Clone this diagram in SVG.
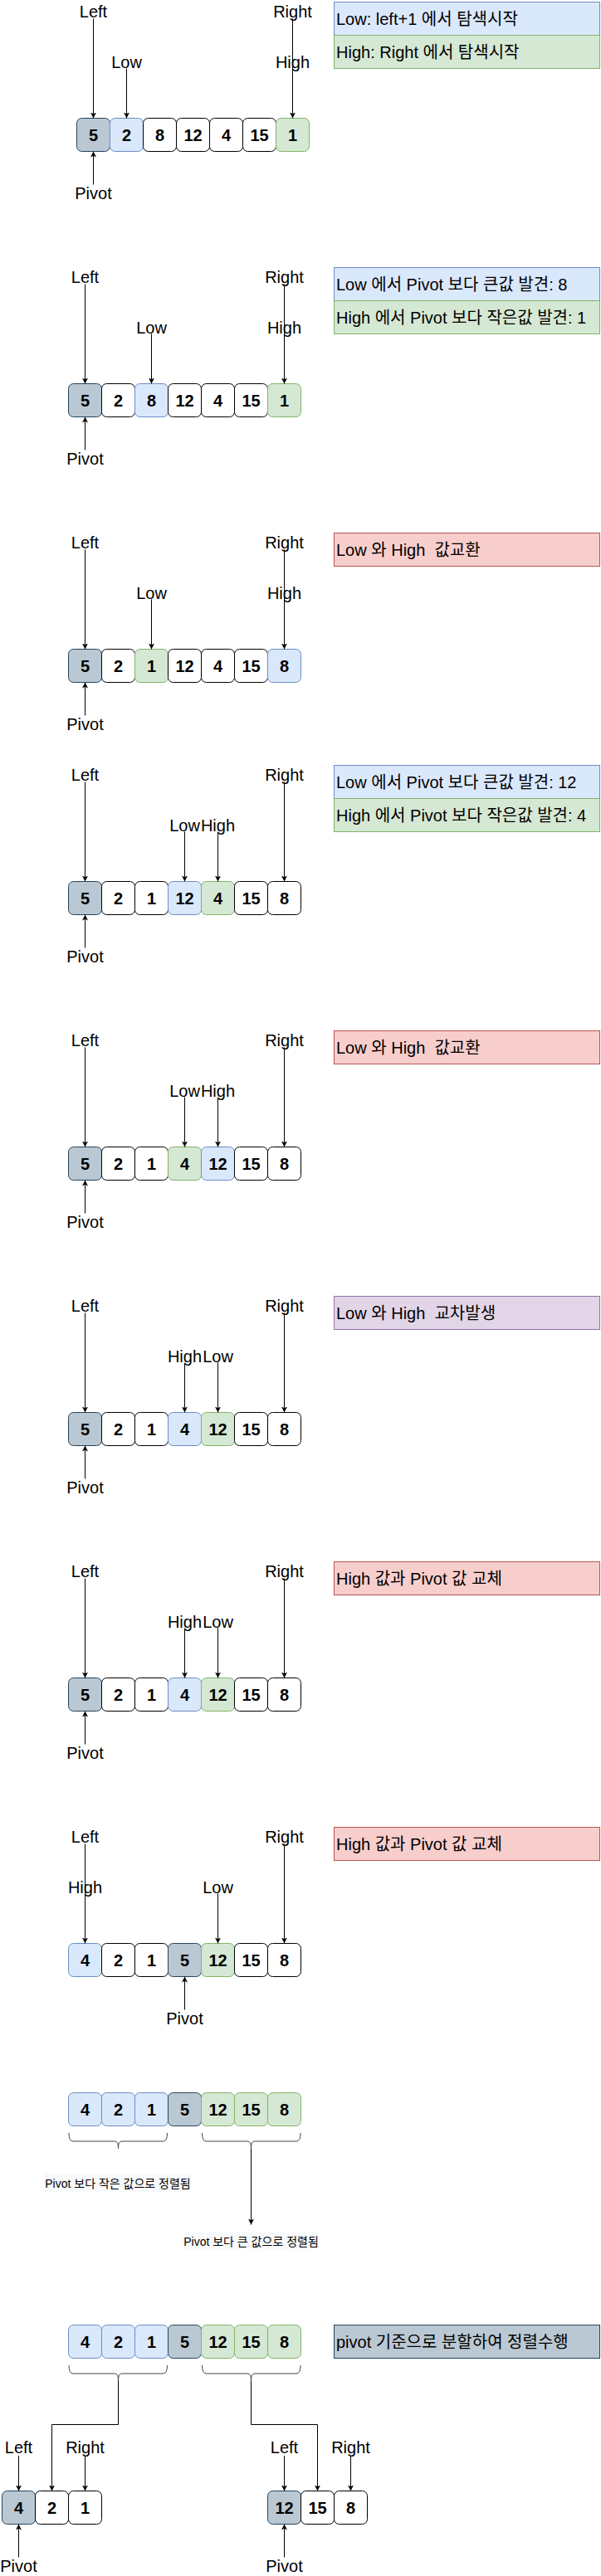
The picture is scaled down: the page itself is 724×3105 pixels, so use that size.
<svg xmlns="http://www.w3.org/2000/svg" width="724" height="3105" viewBox="0 0 724 3105">
<defs>
<marker id="arr" viewBox="0 0 10 10" refX="10" refY="5" markerWidth="7" markerHeight="7" markerUnits="userSpaceOnUse" orient="auto"><path d="M0,0 L10,5 L0,10 L2.5,5 Z" fill="#000"/></marker>
<style>
text{font-family:"Liberation Sans","Noto Sans CJK KR",sans-serif;fill:#000}
.lbl{font-size:20px;text-anchor:middle}
.num{font-size:20px;font-weight:bold;text-anchor:middle}
.note{font-size:20px}
.small{font-size:14px;text-anchor:middle}
.sbg{fill:#f8f9fa;stroke:none}
.w{fill:#fff;stroke:#000}
.g{fill:#bac8d3;stroke:#23445d}
.b{fill:#dae8fc;stroke:#6c8ebf}
.gr{fill:#d5e8d4;stroke:#82b366}
.r{fill:#f8cecc;stroke:#b85450}
.p{fill:#e1d5e7;stroke:#9673a6}
.ln{stroke:#000;stroke-width:1;fill:none;marker-end:url(#arr)}
.pl{stroke:#000;stroke-width:1;fill:none}
.br{stroke:#444;stroke-width:1;fill:none}
</style>
</defs>
<rect width="724" height="3105" fill="#fff"/>

<!-- Panel 1 -->
<g id="p1-cells">
<rect class="g" x="92.5" y="142.5" width="40" height="40" rx="6"/><text class="num" x="112.5" y="169.5">5</text>
<rect class="b" x="132.5" y="142.5" width="40" height="40" rx="6"/><text class="num" x="152.5" y="169.5">2</text>
<rect class="w" x="172.5" y="142.5" width="40" height="40" rx="6"/><text class="num" x="192.5" y="169.5">8</text>
<rect class="w" x="212.5" y="142.5" width="40" height="40" rx="6"/><text class="num" x="232.5" y="169.5">12</text>
<rect class="w" x="252.5" y="142.5" width="40" height="40" rx="6"/><text class="num" x="272.5" y="169.5">4</text>
<rect class="w" x="292.5" y="142.5" width="40" height="40" rx="6"/><text class="num" x="312.5" y="169.5">15</text>
<rect class="gr" x="332.5" y="142.5" width="40" height="40" rx="6"/><text class="num" x="352.5" y="169.5">1</text>
</g>
<g id="p1-labels">
<text class="lbl" x="112.5" y="21">Left</text>
<text class="lbl" x="352.5" y="21">Right</text>
<text class="lbl" x="152.5" y="81.5">Low</text>
<text class="lbl" x="352.5" y="81.5">High</text>
<text class="lbl" x="112.5" y="240">Pivot</text>
</g>
<g id="p1-notes">
<rect class="b" x="402.5" y="2.5" width="320" height="40"/><text class="note" x="405" y="30">Low: left+1 에서 탐색시작</text>
<rect class="gr" x="402.5" y="42.5" width="320" height="40"/><text class="note" x="405" y="70">High: Right 에서 탐색시작</text>
</g>

<!-- Panel 2 -->
<g id="p2-cells">
<rect class="g" x="82.5" y="462.5" width="40" height="40" rx="6"/><text class="num" x="102.5" y="489.5">5</text>
<rect class="w" x="122.5" y="462.5" width="40" height="40" rx="6"/><text class="num" x="142.5" y="489.5">2</text>
<rect class="b" x="162.5" y="462.5" width="40" height="40" rx="6"/><text class="num" x="182.5" y="489.5">8</text>
<rect class="w" x="202.5" y="462.5" width="40" height="40" rx="6"/><text class="num" x="222.5" y="489.5">12</text>
<rect class="w" x="242.5" y="462.5" width="40" height="40" rx="6"/><text class="num" x="262.5" y="489.5">4</text>
<rect class="w" x="282.5" y="462.5" width="40" height="40" rx="6"/><text class="num" x="302.5" y="489.5">15</text>
<rect class="gr" x="322.5" y="462.5" width="40" height="40" rx="6"/><text class="num" x="342.5" y="489.5">1</text>
</g>
<g id="p2-labels">
<text class="lbl" x="102.5" y="341">Left</text>
<text class="lbl" x="342.5" y="341">Right</text>
<text class="lbl" x="182.5" y="401.5">Low</text>
<text class="lbl" x="342.5" y="401.5">High</text>
<text class="lbl" x="102.5" y="560">Pivot</text>
</g>
<g id="p2-notes">
<rect class="b" x="402.5" y="322.5" width="320" height="40"/><text class="note" x="405" y="350">Low 에서 Pivot 보다 큰값 발견: 8</text>
<rect class="gr" x="402.5" y="362.5" width="320" height="40"/><text class="note" x="405" y="390">High 에서 Pivot 보다 작은값 발견: 1</text>
</g>

<!-- Panel 3 -->
<g id="p3-cells">
<rect class="g" x="82.5" y="782.5" width="40" height="40" rx="6"/><text class="num" x="102.5" y="809.5">5</text>
<rect class="w" x="122.5" y="782.5" width="40" height="40" rx="6"/><text class="num" x="142.5" y="809.5">2</text>
<rect class="gr" x="162.5" y="782.5" width="40" height="40" rx="6"/><text class="num" x="182.5" y="809.5">1</text>
<rect class="w" x="202.5" y="782.5" width="40" height="40" rx="6"/><text class="num" x="222.5" y="809.5">12</text>
<rect class="w" x="242.5" y="782.5" width="40" height="40" rx="6"/><text class="num" x="262.5" y="809.5">4</text>
<rect class="w" x="282.5" y="782.5" width="40" height="40" rx="6"/><text class="num" x="302.5" y="809.5">15</text>
<rect class="b" x="322.5" y="782.5" width="40" height="40" rx="6"/><text class="num" x="342.5" y="809.5">8</text>
</g>
<g id="p3-labels">
<text class="lbl" x="102.5" y="661">Left</text>
<text class="lbl" x="342.5" y="661">Right</text>
<text class="lbl" x="182.5" y="721.5">Low</text>
<text class="lbl" x="342.5" y="721.5">High</text>
<text class="lbl" x="102.5" y="880">Pivot</text>
</g>
<g id="p3-notes">
<rect class="r" x="402.5" y="642.5" width="320" height="40"/><text class="note" x="405" y="670" xml:space="preserve">Low 와 High  값교환</text>
</g>

<!-- Panel 4 -->
<g id="p4-cells">
<rect class="g" x="82.5" y="1062.5" width="40" height="40" rx="6"/><text class="num" x="102.5" y="1089.5">5</text>
<rect class="w" x="122.5" y="1062.5" width="40" height="40" rx="6"/><text class="num" x="142.5" y="1089.5">2</text>
<rect class="w" x="162.5" y="1062.5" width="40" height="40" rx="6"/><text class="num" x="182.5" y="1089.5">1</text>
<rect class="b" x="202.5" y="1062.5" width="40" height="40" rx="6"/><text class="num" x="222.5" y="1089.5">12</text>
<rect class="gr" x="242.5" y="1062.5" width="40" height="40" rx="6"/><text class="num" x="262.5" y="1089.5">4</text>
<rect class="w" x="282.5" y="1062.5" width="40" height="40" rx="6"/><text class="num" x="302.5" y="1089.5">15</text>
<rect class="w" x="322.5" y="1062.5" width="40" height="40" rx="6"/><text class="num" x="342.5" y="1089.5">8</text>
</g>
<g id="p4-labels">
<text class="lbl" x="102.5" y="941">Left</text>
<text class="lbl" x="342.5" y="941">Right</text>
<text class="lbl" x="222.5" y="1001.5">Low</text>
<text class="lbl" x="262.5" y="1001.5">High</text>
<text class="lbl" x="102.5" y="1160">Pivot</text>
</g>
<g id="p4-notes">
<rect class="b" x="402.5" y="922.5" width="320" height="40"/><text class="note" x="405" y="950">Low 에서 Pivot 보다 큰값 발견: 12</text>
<rect class="gr" x="402.5" y="962.5" width="320" height="40"/><text class="note" x="405" y="990">High 에서 Pivot 보다 작은값 발견: 4</text>
</g>

<!-- Panel 5 -->
<g id="p5-cells">
<rect class="g" x="82.5" y="1382.5" width="40" height="40" rx="6"/><text class="num" x="102.5" y="1409.5">5</text>
<rect class="w" x="122.5" y="1382.5" width="40" height="40" rx="6"/><text class="num" x="142.5" y="1409.5">2</text>
<rect class="w" x="162.5" y="1382.5" width="40" height="40" rx="6"/><text class="num" x="182.5" y="1409.5">1</text>
<rect class="gr" x="202.5" y="1382.5" width="40" height="40" rx="6"/><text class="num" x="222.5" y="1409.5">4</text>
<rect class="b" x="242.5" y="1382.5" width="40" height="40" rx="6"/><text class="num" x="262.5" y="1409.5">12</text>
<rect class="w" x="282.5" y="1382.5" width="40" height="40" rx="6"/><text class="num" x="302.5" y="1409.5">15</text>
<rect class="w" x="322.5" y="1382.5" width="40" height="40" rx="6"/><text class="num" x="342.5" y="1409.5">8</text>
</g>
<g id="p5-labels">
<text class="lbl" x="102.5" y="1261">Left</text>
<text class="lbl" x="342.5" y="1261">Right</text>
<text class="lbl" x="222.5" y="1321.5">Low</text>
<text class="lbl" x="262.5" y="1321.5">High</text>
<text class="lbl" x="102.5" y="1480">Pivot</text>
</g>
<g id="p5-notes">
<rect class="r" x="402.5" y="1242.5" width="320" height="40"/><text class="note" x="405" y="1270" xml:space="preserve">Low 와 High  값교환</text>
</g>

<!-- Panel 6 -->
<g id="p6-cells">
<rect class="g" x="82.5" y="1702.5" width="40" height="40" rx="6"/><text class="num" x="102.5" y="1729.5">5</text>
<rect class="w" x="122.5" y="1702.5" width="40" height="40" rx="6"/><text class="num" x="142.5" y="1729.5">2</text>
<rect class="w" x="162.5" y="1702.5" width="40" height="40" rx="6"/><text class="num" x="182.5" y="1729.5">1</text>
<rect class="b" x="202.5" y="1702.5" width="40" height="40" rx="6"/><text class="num" x="222.5" y="1729.5">4</text>
<rect class="gr" x="242.5" y="1702.5" width="40" height="40" rx="6"/><text class="num" x="262.5" y="1729.5">12</text>
<rect class="w" x="282.5" y="1702.5" width="40" height="40" rx="6"/><text class="num" x="302.5" y="1729.5">15</text>
<rect class="w" x="322.5" y="1702.5" width="40" height="40" rx="6"/><text class="num" x="342.5" y="1729.5">8</text>
</g>
<g id="p6-labels">
<text class="lbl" x="102.5" y="1581">Left</text>
<text class="lbl" x="342.5" y="1581">Right</text>
<text class="lbl" x="222.5" y="1641.5">High</text>
<text class="lbl" x="262.5" y="1641.5">Low</text>
<text class="lbl" x="102.5" y="1800">Pivot</text>
</g>
<g id="p6-notes">
<rect class="p" x="402.5" y="1562.5" width="320" height="40"/><text class="note" x="405" y="1590" xml:space="preserve">Low 와 High  교차발생</text>
</g>

<!-- Panel 7 -->
<g id="p7-cells">
<rect class="g" x="82.5" y="2022.5" width="40" height="40" rx="6"/><text class="num" x="102.5" y="2049.5">5</text>
<rect class="w" x="122.5" y="2022.5" width="40" height="40" rx="6"/><text class="num" x="142.5" y="2049.5">2</text>
<rect class="w" x="162.5" y="2022.5" width="40" height="40" rx="6"/><text class="num" x="182.5" y="2049.5">1</text>
<rect class="b" x="202.5" y="2022.5" width="40" height="40" rx="6"/><text class="num" x="222.5" y="2049.5">4</text>
<rect class="gr" x="242.5" y="2022.5" width="40" height="40" rx="6"/><text class="num" x="262.5" y="2049.5">12</text>
<rect class="w" x="282.5" y="2022.5" width="40" height="40" rx="6"/><text class="num" x="302.5" y="2049.5">15</text>
<rect class="w" x="322.5" y="2022.5" width="40" height="40" rx="6"/><text class="num" x="342.5" y="2049.5">8</text>
</g>
<g id="p7-labels">
<text class="lbl" x="102.5" y="1901">Left</text>
<text class="lbl" x="342.5" y="1901">Right</text>
<text class="lbl" x="222.5" y="1961.5">High</text>
<text class="lbl" x="262.5" y="1961.5">Low</text>
<text class="lbl" x="102.5" y="2120">Pivot</text>
</g>
<g id="p7-notes">
<rect class="r" x="402.5" y="1882.5" width="320" height="40"/><text class="note" x="405" y="1910">High 값과 Pivot 값 교체</text>
</g>

<!-- Panel 8 -->
<g id="p8-cells">
<rect class="b" x="82.5" y="2342.5" width="40" height="40" rx="6"/><text class="num" x="102.5" y="2369.5">4</text>
<rect class="w" x="122.5" y="2342.5" width="40" height="40" rx="6"/><text class="num" x="142.5" y="2369.5">2</text>
<rect class="w" x="162.5" y="2342.5" width="40" height="40" rx="6"/><text class="num" x="182.5" y="2369.5">1</text>
<rect class="g" x="202.5" y="2342.5" width="40" height="40" rx="6"/><text class="num" x="222.5" y="2369.5">5</text>
<rect class="gr" x="242.5" y="2342.5" width="40" height="40" rx="6"/><text class="num" x="262.5" y="2369.5">12</text>
<rect class="w" x="282.5" y="2342.5" width="40" height="40" rx="6"/><text class="num" x="302.5" y="2369.5">15</text>
<rect class="w" x="322.5" y="2342.5" width="40" height="40" rx="6"/><text class="num" x="342.5" y="2369.5">8</text>
</g>
<g id="p8-labels">
<text class="lbl" x="102.5" y="2221">Left</text>
<text class="lbl" x="342.5" y="2221">Right</text>
<text class="lbl" x="102.5" y="2281.5">High</text>
<text class="lbl" x="262.5" y="2281.5">Low</text>
<text class="lbl" x="222.5" y="2440">Pivot</text>
</g>
<g id="p8-notes">
<rect class="r" x="402.5" y="2202.5" width="320" height="40"/><text class="note" x="405" y="2230">High 값과 Pivot 값 교체</text>
</g>

<!-- Panel 9 -->
<g id="p9-cells">
<rect class="b" x="82.5" y="2522.5" width="40" height="40" rx="6"/><text class="num" x="102.5" y="2549.5">4</text>
<rect class="b" x="122.5" y="2522.5" width="40" height="40" rx="6"/><text class="num" x="142.5" y="2549.5">2</text>
<rect class="b" x="162.5" y="2522.5" width="40" height="40" rx="6"/><text class="num" x="182.5" y="2549.5">1</text>
<rect class="g" x="202.5" y="2522.5" width="40" height="40" rx="6"/><text class="num" x="222.5" y="2549.5">5</text>
<rect class="gr" x="242.5" y="2522.5" width="40" height="40" rx="6"/><text class="num" x="262.5" y="2549.5">12</text>
<rect class="gr" x="282.5" y="2522.5" width="40" height="40" rx="6"/><text class="num" x="302.5" y="2549.5">15</text>
<rect class="gr" x="322.5" y="2522.5" width="40" height="40" rx="6"/><text class="num" x="342.5" y="2549.5">8</text>
</g>
<g id="p9-braces">
<path class="br" d="M83,2571 Q83,2581 88,2581 L138.5,2581 Q142.5,2581 142.5,2589.5 Q142.5,2581 146.5,2581 L196.5,2581 Q201.5,2581 201.5,2571"/>
<path class="br" d="M243.5,2571 Q243.5,2581 248.5,2581 L298.5,2581 Q302.5,2581 302.5,2589.5 Q302.5,2581 306.5,2581 L357,2581 Q362,2581 362,2571"/>
</g>
<g id="p9-small-left">
<rect class="sbg" x="54" y="2620" width="176" height="22"/>
<text class="small" x="142" y="2637">Pivot 보다 작은 값으로 정렬됨</text>
</g>
<g id="p9-small-right">
<rect class="sbg" x="221.5" y="2690.5" width="161.5" height="21"/>
<text class="small" x="302.5" y="2707">Pivot 보다 큰 값으로 정렬됨</text>
</g>

<!-- Panel 10 -->
<g id="p10-cells">
<rect class="b" x="82.5" y="2802.5" width="40" height="40" rx="6"/><text class="num" x="102.5" y="2829.5">4</text>
<rect class="b" x="122.5" y="2802.5" width="40" height="40" rx="6"/><text class="num" x="142.5" y="2829.5">2</text>
<rect class="b" x="162.5" y="2802.5" width="40" height="40" rx="6"/><text class="num" x="182.5" y="2829.5">1</text>
<rect class="g" x="202.5" y="2802.5" width="40" height="40" rx="6"/><text class="num" x="222.5" y="2829.5">5</text>
<rect class="gr" x="242.5" y="2802.5" width="40" height="40" rx="6"/><text class="num" x="262.5" y="2829.5">12</text>
<rect class="gr" x="282.5" y="2802.5" width="40" height="40" rx="6"/><text class="num" x="302.5" y="2829.5">15</text>
<rect class="gr" x="322.5" y="2802.5" width="40" height="40" rx="6"/><text class="num" x="342.5" y="2829.5">8</text>
</g>
<g id="p10-braces">
<path class="br" d="M83,2851 Q83,2861 88,2861 L138.5,2861 Q142.5,2861 142.5,2869.5 Q142.5,2861 146.5,2861 L196.5,2861 Q201.5,2861 201.5,2851"/>
<path class="br" d="M243.5,2851 Q243.5,2861 248.5,2861 L298.5,2861 Q302.5,2861 302.5,2869.5 Q302.5,2861 306.5,2861 L357,2861 Q362,2861 362,2851"/>
</g>
<g id="p10-notes">
<rect class="g" x="402.5" y="2802.5" width="320" height="40"/><text class="note" x="405" y="2830">pivot 기준으로 분할하여 정렬수행</text>
</g>
<g id="sub-left-cells">
<rect class="g" x="2.5" y="3002.5" width="40" height="40" rx="6"/><text class="num" x="22.5" y="3029.5">4</text>
<rect class="w" x="42.5" y="3002.5" width="40" height="40" rx="6"/><text class="num" x="62.5" y="3029.5">2</text>
<rect class="w" x="82.5" y="3002.5" width="40" height="40" rx="6"/><text class="num" x="102.5" y="3029.5">1</text>
</g>
<g id="sub-left-labels">
<text class="lbl" x="22.5" y="2957">Left</text>
<text class="lbl" x="102.5" y="2957">Right</text>
<text class="lbl" x="22.5" y="3100">Pivot</text>
</g>
<g id="sub-right-cells">
<rect class="g" x="322.5" y="3002.5" width="40" height="40" rx="6"/><text class="num" x="342.5" y="3029.5">12</text>
<rect class="w" x="362.5" y="3002.5" width="40" height="40" rx="6"/><text class="num" x="382.5" y="3029.5">15</text>
<rect class="w" x="402.5" y="3002.5" width="40" height="40" rx="6"/><text class="num" x="422.5" y="3029.5">8</text>
</g>
<g id="sub-right-labels">
<text class="lbl" x="342.5" y="2957">Left</text>
<text class="lbl" x="422.5" y="2957">Right</text>
<text class="lbl" x="342.5" y="3100">Pivot</text>
</g>

<!-- Connectors -->
<g id="connectors">
<line class="ln" x1="112.5" y1="22.5" x2="112.5" y2="142.5"/>
<line class="ln" x1="352.5" y1="22.5" x2="352.5" y2="142.5"/>
<line class="ln" x1="152.5" y1="82.5" x2="152.5" y2="142.5"/>
<line class="ln" x1="112.5" y1="222.5" x2="112.5" y2="182.5"/>

<line class="ln" x1="102.5" y1="342.5" x2="102.5" y2="462.5"/>
<line class="ln" x1="342.5" y1="342.5" x2="342.5" y2="462.5"/>
<line class="ln" x1="182.5" y1="402.5" x2="182.5" y2="462.5"/>
<line class="ln" x1="102.5" y1="542.5" x2="102.5" y2="502.5"/>

<line class="ln" x1="102.5" y1="662.5" x2="102.5" y2="782.5"/>
<line class="ln" x1="342.5" y1="662.5" x2="342.5" y2="782.5"/>
<line class="ln" x1="182.5" y1="722.5" x2="182.5" y2="782.5"/>
<line class="ln" x1="102.5" y1="862.5" x2="102.5" y2="822.5"/>

<line class="ln" x1="102.5" y1="942.5" x2="102.5" y2="1062.5"/>
<line class="ln" x1="342.5" y1="942.5" x2="342.5" y2="1062.5"/>
<line class="ln" x1="222.5" y1="1002.5" x2="222.5" y2="1062.5"/>
<line class="ln" x1="262.5" y1="1002.5" x2="262.5" y2="1062.5"/>
<line class="ln" x1="102.5" y1="1142.5" x2="102.5" y2="1102.5"/>

<line class="ln" x1="102.5" y1="1262.5" x2="102.5" y2="1382.5"/>
<line class="ln" x1="342.5" y1="1262.5" x2="342.5" y2="1382.5"/>
<line class="ln" x1="222.5" y1="1322.5" x2="222.5" y2="1382.5"/>
<line class="ln" x1="262.5" y1="1322.5" x2="262.5" y2="1382.5"/>
<line class="ln" x1="102.5" y1="1462.5" x2="102.5" y2="1422.5"/>

<line class="ln" x1="102.5" y1="1582.5" x2="102.5" y2="1702.5"/>
<line class="ln" x1="342.5" y1="1582.5" x2="342.5" y2="1702.5"/>
<line class="ln" x1="222.5" y1="1642.5" x2="222.5" y2="1702.5"/>
<line class="ln" x1="262.5" y1="1642.5" x2="262.5" y2="1702.5"/>
<line class="ln" x1="102.5" y1="1782.5" x2="102.5" y2="1742.5"/>

<line class="ln" x1="102.5" y1="1902.5" x2="102.5" y2="2022.5"/>
<line class="ln" x1="342.5" y1="1902.5" x2="342.5" y2="2022.5"/>
<line class="ln" x1="222.5" y1="1962.5" x2="222.5" y2="2022.5"/>
<line class="ln" x1="262.5" y1="1962.5" x2="262.5" y2="2022.5"/>
<line class="ln" x1="102.5" y1="2102.5" x2="102.5" y2="2062.5"/>

<line class="ln" x1="102.5" y1="2222.5" x2="102.5" y2="2342.5"/>
<line class="ln" x1="342.5" y1="2222.5" x2="342.5" y2="2342.5"/>
<line class="ln" x1="262.5" y1="2282.5" x2="262.5" y2="2342.5"/>
<line class="ln" x1="222.5" y1="2422.5" x2="222.5" y2="2382.5"/>

<line class="ln" x1="302.5" y1="2589.5" x2="302.5" y2="2681.5"/>

<path class="ln" d="M142.5,2869.5 V2922.5 H62.5 V3002.5"/>
<path class="ln" d="M302.5,2869.5 V2922.5 H382.5 V3002.5"/>

<line class="ln" x1="22.5" y1="2960" x2="22.5" y2="3002.5"/>
<line class="ln" x1="102.5" y1="2960" x2="102.5" y2="3002.5"/>
<line class="ln" x1="22.5" y1="3082.5" x2="22.5" y2="3042.5"/>
<line class="ln" x1="342.5" y1="2960" x2="342.5" y2="3002.5"/>
<line class="ln" x1="422.5" y1="2960" x2="422.5" y2="3002.5"/>
<line class="ln" x1="342.5" y1="3082.5" x2="342.5" y2="3042.5"/>
</g>
</svg>
